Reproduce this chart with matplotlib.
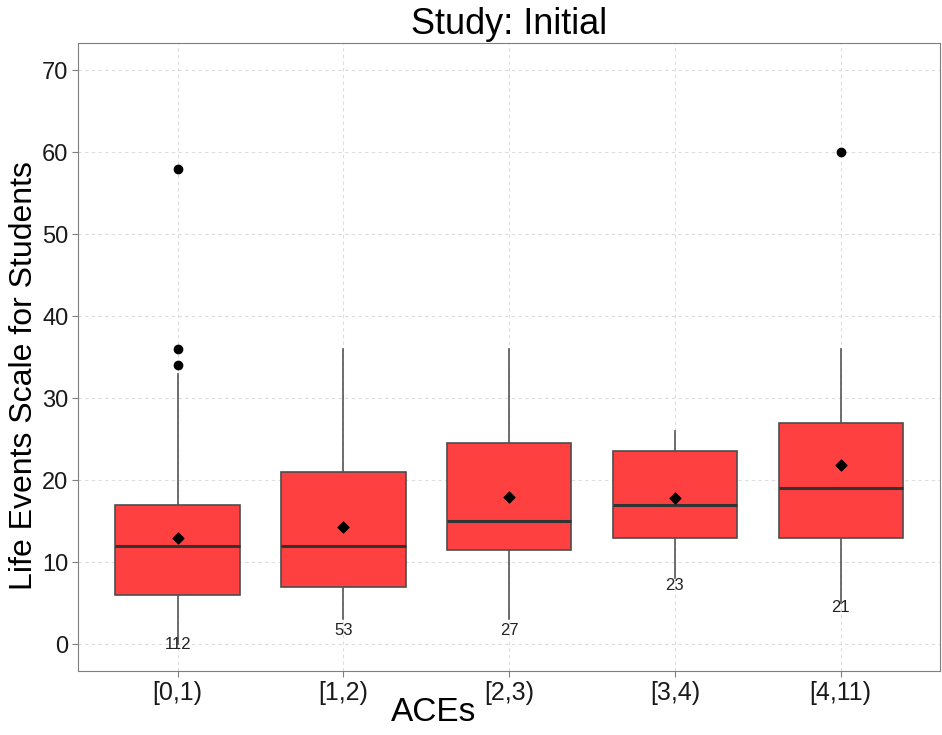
import numpy as np
import matplotlib.pyplot as plt

plt.rcParams["font.family"] = ["Liberation Sans", "DejaVu Sans"]

# box statistics
groups = ["[0,1)", "[1,2)", "[2,3)", "[3,4)", "[4,11)"]
q1 = [6, 7, 11.5, 13, 13]
med = [12, 12, 15, 17, 19]
q3 = [17, 21, 24.5, 23.5, 27]
whislo = [0, 3, 3, 8, 5]
whishi = [33, 36, 36, 26, 36]
means = [13.0, 14.3, 17.9, 17.8, 21.8]
outliers = [[58, 36, 34], [], [], [], [60]]
counts = [112, 53, 27, 23, 21]
count_y = [0, 1.7, 1.7, 7.2, 4.5]

stats = []
for i in range(len(groups)):
    stats.append(dict(label=groups[i], q1=q1[i], med=med[i], q3=q3[i],
                      whislo=whislo[i], whishi=whishi[i], fliers=outliers[i]))

pos = np.arange(1, len(groups) + 1)

fig = plt.figure(figsize=(9.42, 7.35), dpi=100)
ax = fig.add_axes([0.083, 0.087, 0.915, 0.855])

ax.grid(True, color="#dcdcdc", linestyle=(0, (3, 3)), linewidth=0.8)
ax.set_axisbelow(True)

ax.bxp(stats, positions=pos, widths=0.75, patch_artist=True, showcaps=False,
       boxprops=dict(facecolor="#ff4040", edgecolor="#4d4d4d", linewidth=1.2),
       medianprops=dict(color="#333333", linewidth=2.2),
       whiskerprops=dict(color="#555555", linewidth=1.2),
       flierprops=dict(marker="o", markerfacecolor="black", markeredgecolor="black",
                       markersize=6))

ax.scatter(pos, means, marker="D", s=30, color="black", zorder=5)

for x, y, n in zip(pos, count_y, counts):
    ax.text(x, y, str(n), ha="center", va="center", fontsize=12, color="#222222")

ax.set_xlim(0.4, 5.6)
ax.set_ylim(-3.3, 73.4)
ax.set_xticks(pos)
ax.set_xticklabels(groups, fontsize=18)
ax.set_yticks(np.arange(0, 71, 10))
ax.tick_params(axis="y", labelsize=17, pad=3)
ax.tick_params(colors="#7f7f7f", labelcolor="#1a1a1a", length=4, width=0.8)

for s in ax.spines.values():
    s.set_color("#7f7f7f")
    s.set_linewidth(0.8)

ax.set_title("Study: Initial", fontsize=26, pad=6)
ax.set_xlabel("ACEs", fontsize=24)
ax.xaxis.set_label_coords(0.412, -0.042)
ax.set_ylabel("Life Events Scale for Students", fontsize=23)
ax.yaxis.set_label_coords(-0.046, 0.47)

fig.savefig("out.png", dpi=100)
